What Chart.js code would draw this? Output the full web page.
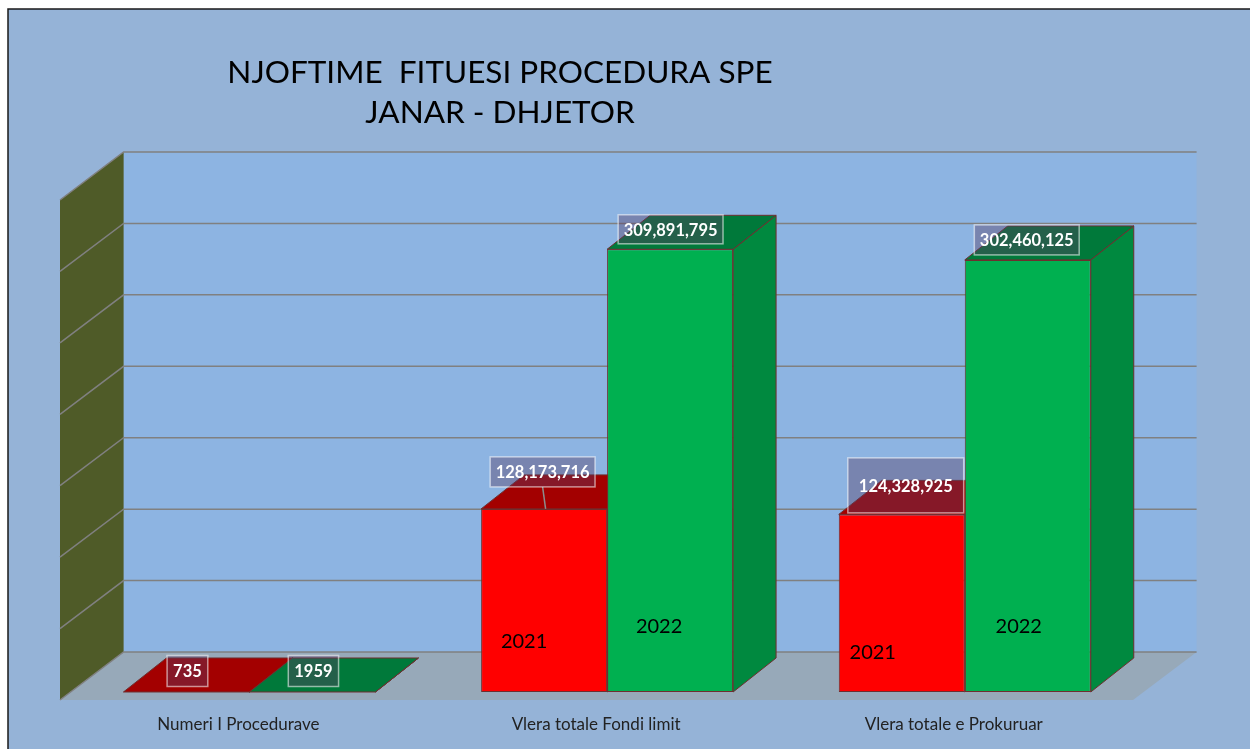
<!DOCTYPE html>
<html>
<head>
<meta charset="utf-8">
<title>Njoftime fituesi procedura SPE</title>
<script src="https://cdn.jsdelivr.net/npm/chart.js@4.4.1/dist/chart.umd.min.js"></script>
<style>
  html, body { margin: 0; padding: 0; background: #fff; }
  #wrap { width: 1250px; height: 749px; }
</style>
</head>
<body>
<div id="wrap"><canvas id="chart" width="1250" height="749"></canvas></div>
<script>
const titleLines = ['NJOFTIME  FITUESI PROCEDURA SPE', 'JANAR - DHJETOR'];
const categories = ['Numeri I Procedurave', 'Vlera totale Fondi limit', 'Vlera totale e Prokuruar'];
const seriesNames = ['2021', '2022'];
const values2021 = [735, 128173716, 124328925];
const values2022 = [1959, 309891795, 302460125];
const gridValues = [0, 50000000, 100000000, 150000000, 200000000, 250000000, 300000000, 350000000];

// fake 3d: offsets in px, measured from the bar front plane
const depth = { bar: [43, -34], wall: [53, -40], front: [-10.6, 8] };
const colors = {
  outer: '#95B3D7', wall: '#8DB4E2', side: '#4F5B28', floor: '#97A9B9',
  grid: '#808080', edge: '#6E2F2F', frame: '#1a1a1a',
};
const FONT = 'Lato, "Open Sans", sans-serif';

// label tweaks, one per bar [dataset][category]
const labelStyles = [
  [{ dx: 1, up: 21, h: 31, padX: 6 }, { dx: -1.5, up: 37, h: 30, padX: 5.5, leader: true }, { dx: 4, up: 29, h: 55, padX: 11 }],
  [{ dx: 1, up: 21, h: 31, padX: 6 }, { dx: 0.5, up: 20, h: 29, padX: 5.5 }, { dx: -1, up: 20, h: 30, padX: 5.5 }],
];
const yearLabelPos = [
  [null, [-20, 50], [-29, 39]],
  [null, [-11, 65], [-9, 65]],
];

function poly(ctx, pts, fill, stroke) {
  ctx.beginPath();
  pts.forEach(([x, y], i) => i ? ctx.lineTo(x, y) : ctx.moveTo(x, y));
  ctx.closePath();
  ctx.fillStyle = fill; ctx.fill();
  if (stroke) { ctx.strokeStyle = stroke; ctx.lineWidth = 1; ctx.stroke(); }
}

const threeD = {
  id: 'threeD',
  afterLayout(chart) {
    // title sits centred over the left part of the frame
    if (chart.titleBlock) { chart.titleBlock.left = 0; chart.titleBlock.right = 1000; }
  },
  beforeDraw(chart) {
    const { ctx, chartArea: a, scales: { y } } = chart;
    const [wx, wy] = depth.wall, [fx, fy] = depth.front;
    const top = y.getPixelForValue(gridValues[gridValues.length - 1]);
    const base = y.getPixelForValue(0);
    ctx.save();
    ctx.fillStyle = '#fff'; ctx.fillRect(0, 0, chart.width, chart.height);
    ctx.fillStyle = colors.outer; ctx.fillRect(8, 9, chart.width - 8, chart.height - 9);
    ctx.strokeStyle = colors.frame; ctx.lineWidth = 1.5;
    ctx.beginPath(); ctx.moveTo(8, chart.height); ctx.lineTo(8, 9); ctx.lineTo(chart.width, 9); ctx.stroke();

    ctx.fillStyle = colors.wall;
    ctx.fillRect(a.left + wx, top + wy, a.right - a.left, base - top);
    poly(ctx, [[a.left + fx, top + fy], [a.left + wx, top + wy], [a.left + wx, base + wy], [a.left + fx, base + fy]], colors.side);
    poly(ctx, [[a.left + fx, base + fy], [a.right + fx, base + fy], [a.right + wx, base + wy], [a.left + wx, base + wy]], colors.floor);

    ctx.strokeStyle = colors.grid; ctx.lineWidth = 1.5;
    gridValues.forEach(v => {
      const py = y.getPixelForValue(v);
      ctx.beginPath();
      ctx.moveTo(a.left + fx, py + fy);
      ctx.lineTo(a.left + wx, py + wy);
      ctx.lineTo(a.right + wx, py + wy);
      ctx.stroke();
    });
    ctx.restore();
  },
  beforeDatasetsDraw(chart) {
    const { ctx } = chart;
    const [bx, by] = depth.bar;
    ctx.save();
    chart.data.datasets.forEach((ds, di) => {
      chart.getDatasetMeta(di).data.forEach(bar => {
        const l = bar.x - bar.width / 2, r = bar.x + bar.width / 2;
        poly(ctx, [[r, bar.y], [r + bx, bar.y + by], [r + bx, bar.base + by], [r, bar.base]], ds.sideColor, colors.edge);
        poly(ctx, [[l, bar.y], [r, bar.y], [r + bx, bar.y + by], [l + bx, bar.y + by]], ds.topColor, colors.edge);
      });
    });
    ctx.restore();
  },
  afterDatasetsDraw(chart) {
    const { ctx } = chart;
    ctx.save();
    ctx.textAlign = 'center'; ctx.textBaseline = 'middle';

    // year names written on the bars
    ctx.font = `20px ${FONT}`; ctx.fillStyle = '#000';
    chart.data.datasets.forEach((ds, di) => {
      chart.getDatasetMeta(di).data.forEach((bar, i) => {
        const p = yearLabelPos[di][i];
        if (p) ctx.fillText(ds.label, bar.x + p[0], bar.base - p[1]);
      });
    });

    // value labels
    ctx.font = `bold 16.5px ${FONT}`;
    chart.data.datasets.forEach((ds, di) => {
      chart.getDatasetMeta(di).data.forEach((bar, i) => {
        const st = labelStyles[di][i];
        const v = ds.data[i];
        const txt = i === 0 ? String(v) : v.toLocaleString('en-US');
        const w = ctx.measureText(txt).width + st.padX * 2;
        const cx = bar.x + st.dx, cy = bar.y - st.up;
        if (st.leader) {
          ctx.strokeStyle = '#8c8c8c'; ctx.lineWidth = 1.5;
          ctx.beginPath(); ctx.moveTo(cx, cy + st.h / 2); ctx.lineTo(cx + 3, bar.y); ctx.stroke();
        }
        ctx.fillStyle = 'rgba(90, 60, 100, 0.4)';
        ctx.fillRect(cx - w / 2, cy - st.h / 2, w, st.h);
        ctx.strokeStyle = 'rgba(255, 255, 255, 0.55)'; ctx.lineWidth = 1.5;
        ctx.strokeRect(cx - w / 2, cy - st.h / 2, w, st.h);
        ctx.fillStyle = '#fff';
        ctx.fillText(txt, cx, cy + 1);
      });
    });
    ctx.restore();
  },
};

new Chart(document.getElementById('chart'), {
  type: 'bar',
  data: {
    labels: categories,
    datasets: [
      { label: seriesNames[0], data: values2021, backgroundColor: '#FF0000', topColor: '#A30000', sideColor: '#C00000' },
      { label: seriesNames[1], data: values2022, backgroundColor: '#00B050', topColor: '#00793A', sideColor: '#00893F' },
    ],
  },
  options: {
    responsive: false,
    animation: false,
    layout: { padding: { left: 70.6, right: 106.4, top: 0, bottom: 0 } },
    datasets: {
      bar: { borderColor: colors.edge, borderWidth: 1, borderSkipped: false, categoryPercentage: 0.7045, barPercentage: 1 },
    },
    plugins: {
      legend: { display: false },
      tooltip: { enabled: false },
      title: {
        display: true,
        text: titleLines,
        color: '#000',
        font: { family: FONT, size: 31.5, weight: 'normal', lineHeight: 1.27 },
        padding: { top: 53, bottom: 59 },
      },
    },
    scales: {
      x: {
        grid: { display: false, drawTicks: false },
        border: { display: false },
        ticks: { color: '#222', font: { family: FONT, size: 17 }, padding: 22, labelOffset: -11, maxRotation: 0, autoSkip: false },
        afterFit: s => { s.height = 57; },
      },
      y: { display: false, min: 0, max: 350000000 },
    },
  },
  plugins: [threeD],
});
</script>
</body>
</html>
